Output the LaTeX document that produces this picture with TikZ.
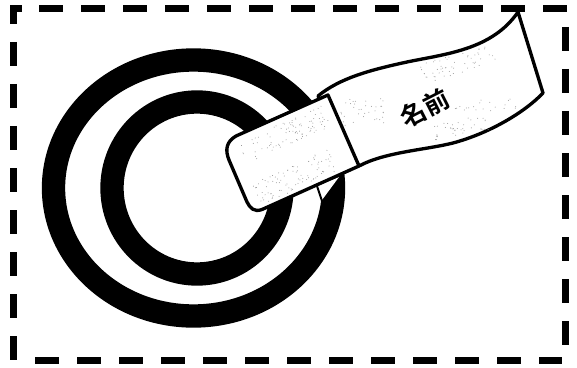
\documentclass[tikz,border=0pt]{standalone}
\usepackage{fontspec}
\newfontfamily\cjk{Noto Sans CJK JP}[BoldFont={Noto Sans CJK JP Bold}]
\tikzset{every picture/.style={line width=0.75pt}}
\tikzset{framedash/.style={line width=5.25pt,dash pattern=on 18pt off 13.5pt},
  ringline/.style={line width=17.5pt},
  tagline/.style={line width=2.5pt,fill=white,line join=round}}
% sprinkle of grey dots: centre x, centre y, half width, half height, angle, count
\newcommand{\stipplepatch}[6]{%
  \begin{scope}[shift={(#1,#2)},rotate=#5]
  \foreach \i in {1,...,#6}{
    \pgfmathsetmacro{\dx}{rand*#3}
    \pgfmathsetmacro{\dy}{rand*#4}
    \fill [black!40] (\dx,\dy) circle [radius=0.5];
  }
  \end{scope}}

\begin{document}
\begin{tikzpicture}[x=0.75pt,y=0.75pt,yscale=-1,xscale=1]
\useasboundingbox (0,0) rectangle (577,367);
\pgfmathsetseed{11}

%Shape: Dashed frame
\draw [line width=5.25pt] (21.5,9) -- (13,9) -- (13,24) ;
\draw [framedash] (39,9) -- (568,9) ;
\draw [framedash] (13,42) -- (13,362) ;
\draw [framedash] (565.5,27) -- (565.5,346) ;
\draw [framedash] (35,360.5) -- (562,360.5) ;

%Shape: Ellipse
\draw [ringline] (193.5,188) ellipse [x radius=140,y radius=128] ;
%Shape: Ellipse
\draw [ringline] (197,188) ellipse [x radius=85,y radius=86] ;

%Shape: Gap under the tag
\fill [white] (317,186) -- (322,200) -- (339,177) -- cycle ;
\draw [line width=1.5pt] (317,186) -- (322,201) ;

%Shape: Ribbon
\draw [tagline] (318,96) .. controls (340,78) and (370,70) .. (407,62) .. controls (445,54) and (492,50) .. (518,12) -- (543,93) .. controls (525,112) and (490,133) .. (453,143) .. controls (425,150) and (385,152) .. (359,166) -- cycle ;
%Shape: Tag
\draw [tagline] (328,95) -- (359,166) -- (262,209.5) .. controls (254,212.5) and (250,208) .. (247,202) -- (229,160) .. controls (225,150) and (226,142) .. (236,136) -- cycle ;

%Stipple
\stipplepatch{285}{135}{46}{12}{-24}{90}
\stipplepatch{295}{177}{42}{12}{-24}{90}
\stipplepatch{362}{112}{22}{14}{0}{35}
\stipplepatch{458}{64}{38}{10}{-15}{55}
\stipplepatch{458}{128}{30}{8}{-10}{40}
\stipplepatch{485}{105}{32}{6}{0}{20}

% Text Node
\draw (425,108) node (namelabel) [inner sep=0.75pt,rotate=27] {\cjk\bfseries\fontsize{19pt}{19pt}\selectfont 名前};

\end{tikzpicture}
\end{document}
